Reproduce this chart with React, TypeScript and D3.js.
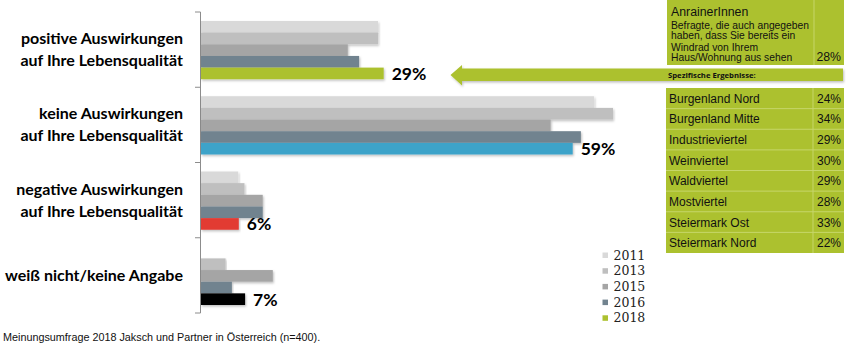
import React from "react";
import * as d3 from "d3";

const categories = [
  ["positive Auswirkungen", "auf Ihre Lebensqualität"],
  ["keine Auswirkungen", "auf Ihre Lebensqualität"],
  ["negative Auswirkungen", "auf Ihre Lebensqualität"],
  ["weiß nicht/keine Angabe"],
];
const years = ["2011", "2013", "2015", "2016", "2018"];
const v2011 = [28.1, 62.4, 5.9, 0];
const v2013 = [28.1, 65.4, 6.9, 3.9];
const v2015 = [23.3, 55.5, 9.8, 11.4];
const v2016 = [25.1, 60.3, 9.8, 4.9];
const v2018 = [29, 59, 6, 7];
const labels2018 = ["29%", "59%", "6%", "7%"];
const yearColors = ["#d9d9d9", "#bfbfbf", "#a5a5a5", "#71838f", "#acc12f"];
const colors2018 = ["#acc12f", "#3ea3c9", "#e23b33", "#000000"];

const boxTitle = "AnrainerInnen";
const boxLines = ["Befragte, die auch angegeben", "haben, dass Sie bereits ein", "Windrad von Ihrem", "Haus/Wohnung aus sehen"];
const boxValue = "28%";
const regions = ["Burgenland Nord", "Burgenland Mitte", "Industrieviertel", "Weinviertel", "Waldviertel", "Mostviertel", "Steiermark Ost", "Steiermark Nord"];
const regionValues = ["24%", "34%", "29%", "30%", "29%", "28%", "33%", "22%"];
const footnote = "Meinungsumfrage 2018 Jaksch und Partner in Österreich (n=400).";

const GREEN = "#acc12f";

export default function App() {
  const W = 848, H = 346;
  const series = [v2011, v2013, v2015, v2016, v2018];
  const x = d3.scaleLinear().domain([0, 100]).range([201, 831]);
  const y = d3.scaleBand<number>().domain(d3.range(categories.length)).range([12, 313]).padding(0);
  const bw = y.bandwidth();
  const yi = d3.scaleBand<number>().domain(d3.range(years.length)).range([9, bw - 8]).padding(0);
  const bh = yi.bandwidth();
  const rowY = d3.scaleBand<number>().domain(d3.range(regions.length)).range([88, 253]);
  const label = "'Lato', 'Open Sans', sans-serif";
  const arial = "'Liberation Sans', Arial, sans-serif";

  return (
    <svg width={W} height={H} style={{ position: "absolute", left: 0, top: 0 }}>
      <defs>
        <filter id="sh" x="-5%" y="-20%" width="110%" height="160%">
          <feDropShadow dx="1" dy="1.5" stdDeviation="1" floodColor="#000" floodOpacity="0.25" />
        </filter>
      </defs>
      <rect width={W} height={H} fill="#fff" />
      {/* axis */}
      <line x1={200.5} x2={200.5} y1={12} y2={313} stroke="#8c8c8c" />
      {d3.range(categories.length + 1).map((i) => {
        const yy = 12 + i * bw;
        return <line key={i} x1={195} x2={200.5} y1={yy} y2={yy} stroke="#8c8c8c" />;
      })}
      {/* bars */}
      {categories.map((c, ci) =>
        series.map((s, si) => {
          const v = s[ci];
          if (!v) return null;
          const fill = si === 4 ? colors2018[ci] : yearColors[si];
          return (
            <rect key={ci + "-" + si} x={x(0)} y={(y(ci) as number) + (yi(si) as number)} width={x(v) - x(0)} height={bh} fill={fill} filter="url(#sh)" />
          );
        })
      )}
      {/* value labels */}
      {categories.map((c, ci) => (
        <text key={"vl" + ci} x={x(v2018[ci]) + 8} y={(y(ci) as number) + (yi(4) as number) + bh / 2 + 6.5} fontFamily={label} fontWeight={700} fontSize={17.5} fill="#000">
          {labels2018[ci]}
        </text>
      ))}
      {/* category labels */}
      {categories.map((c, ci) => {
        const cy = (y(ci) as number) + bw / 2;
        const lh = 22;
        return c.map((line, li) => (
          <text key={"cl" + ci + li} x={183} y={cy + (li - (c.length - 1) / 2) * lh + 5.5} textAnchor="end" fontFamily={label} fontWeight={700} fontSize={16} fill="#000">
            {line}
          </text>
        ));
      })}
      {/* legend */}
      {years.map((yr, i) => (
        <g key={yr} transform={`translate(602.5, ${252.5 + i * 15.7})`}>
          <rect x={0} y={0} width={5.5} height={5.5} fill={yearColors[i]} />
          <text x={11} y={7} fontFamily="'DejaVu Serif', serif" fontSize={12.5} fill="#222">{yr}</text>
        </g>
      ))}
      {/* arrow */}
      <g filter="url(#sh)">
        <path d="M450.5,75 L462,65 L462,68.5 L843,68.5 L843,81 L462,81 L462,85.5 Z" fill={GREEN} />
      </g>
      <text x={668} y={78} fontFamily="'Open Sans', sans-serif" fontWeight={700} fontSize={7.7} fill="#111">Spezifische Ergebnisse:</text>
      {/* top box */}
      <rect x={667} y={0} width={177} height={65} fill={GREEN} />
      <line x1={814} x2={814} y1={0} y2={65} stroke="#c6d66a" />
      <text x={671} y={16} fontFamily={arial} fontSize={12.3} fill="#111">{boxTitle}</text>
      {boxLines.map((l, i) => (
        <text key={l} x={671} y={28.5 + i * 10.7 + (i >= 2 ? 0.8 : 0)} fontFamily={arial} fontSize={10.3} fill="#111">{l}</text>
      ))}
      <text x={841} y={60.5} textAnchor="end" fontFamily={arial} fontSize={12.3} fill="#111">{boxValue}</text>
      {/* table */}
      <rect x={666} y={88} width={178} height={165} fill={GREEN} />
      {regions.map((r, i) => {
        const ry = rowY(i) as number;
        const rh = rowY.bandwidth();
        return (
          <g key={r}>
            {i > 0 && <line x1={666} x2={844} y1={ry} y2={ry} stroke="#c6d66a" />}
            <text x={669} y={ry + rh / 2 + 4.5} fontFamily={arial} fontSize={12} fill="#111">{r}</text>
            <text x={841} y={ry + rh / 2 + 4.5} textAnchor="end" fontFamily={arial} fontSize={12} fill="#111">{regionValues[i]}</text>
          </g>
        );
      })}
      <line x1={813} x2={813} y1={88} y2={253} stroke="#c6d66a" />
      {/* footnote */}
      <text x={3} y={341} fontFamily={arial} fontSize={10.8} fill="#111">{footnote}</text>
    </svg>
  );
}
